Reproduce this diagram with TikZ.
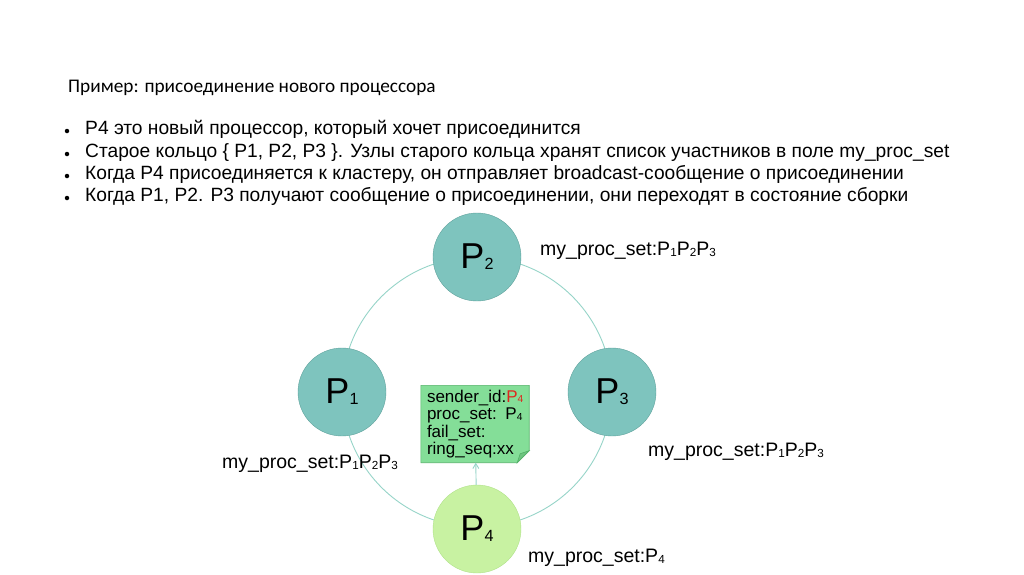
\documentclass[tikz,border=0pt]{standalone}
\usepackage{fontspec}
\setmainfont{Liberation Sans}
\newfontfamily\titlefont{Carlito}
\usetikzlibrary{arrows.meta, positioning, backgrounds}

\definecolor{procfill}{RGB}{126,196,190}
\definecolor{procline}{RGB}{96,162,156}
\definecolor{newfill}{RGB}{200,242,162}
\definecolor{newline}{RGB}{176,226,138}
\definecolor{ringline}{RGB}{150,212,200}
\definecolor{notefill}{RGB}{132,222,152}
\definecolor{noteline}{RGB}{84,178,104}
\definecolor{foldfill}{RGB}{110,196,128}
\definecolor{idred}{RGB}{222,40,30}

% processor name with small index
\newcommand{\pid}[2][0.6]{P\raisebox{-0.03em}{\scalebox{#1}{#2}}}

\begin{document}
\begin{tikzpicture}[x=1pt, y=-1pt,
  proc/.style={circle, draw=procline, fill=procfill, minimum size=88pt, inner sep=0pt, font=\fontsize{36}{36}\selectfont},
  newproc/.style={proc, draw=newline, fill=newfill},
  lbl/.style={anchor=west, inner sep=0pt, font=\fontsize{19.5}{22}\selectfont},
  item/.style={anchor=base west, inner sep=0pt, font=\fontsize{19.2}{22}\selectfont},
  dot/.style={circle, fill=black, inner sep=0pt, minimum size=4.5pt},
  note/.style={minimum width=108pt, minimum height=77pt, text width=96pt, align=left, inner xsep=6pt, inner ysep=3pt, font=\fontsize{17}{17.3}\selectfont},
  ring/.style={ringline, line width=0.9pt},
  arr/.style={-{Straight Barb[length=5pt, width=6pt]}, ringline, line width=0.9pt}
]
  \useasboundingbox (0,0) rectangle (1024,574);

  % heading and bullet list
  \node[anchor=base west, inner sep=0pt, font=\titlefont\fontsize{19.3}{22}\selectfont] (title) at (68,92) {Пример: присоединение нового процессора};

  \node[dot] (b1) at (67,131) {};
  \node[dot] (b2) at (67,154) {};
  \node[dot] (b3) at (67,176) {};
  \node[dot] (b4) at (67,198) {};
  \node[item] (t1) at (85,134) {P4 это новый процессор, который хочет присоединится};
  \node[item] (t2) at (85,157) {Старое кольцо \{ P1, P2, P3 \}. Узлы старого кольца хранят список участников в поле my\_proc\_set};
  \node[item] (t3) at (85,179) {Когда P4 присоединяется к кластеру, он отправляет broadcast-сообщение о присоединении};
  \node[item] (t4) at (85,201) {Когда P1, P2. P3 получают сообщение о присоединении, они переходят в состояние сборки};

  % ring of processors
  \coordinate (ringc) at (477,392);
  \draw[ring] (ringc) circle (135pt);

  \node[proc] (p2) at (477,257) {\pid[0.45]{2}};
  \node[proc] (p1) at (342,392) {\pid[0.45]{1}};
  \node[proc] (p3) at (612,392) {\pid[0.45]{3}};
  \node[newproc] (p4) at (477,529) {\pid[0.45]{4}};

  \node[lbl] (l2) at (540,251) {my\_proc\_set:\pid{1}\pid{2}\pid{3}};
  \node[lbl] (l1) at (222,464) {my\_proc\_set:\pid{1}\pid{2}\pid{3}};
  \node[lbl] (l3) at (648,452) {my\_proc\_set:\pid{1}\pid{2}\pid{3}};
  \node[lbl] (l4) at (528,558) {my\_proc\_set:\pid{4}};

  % join message with folded corner
  \node[note] (msg) at (475,424) {sender\_id:\textcolor{idred}{\pid{4}}\\proc\_set: \pid{4}\\fail\_set:\\ring\_seq:xx};
  \begin{scope}[on background layer]
    \filldraw[fill=notefill, draw=noteline, line width=0.6pt] (msg.north west) -- (msg.north east) -- ([yshift=12pt]msg.south east) -- ([xshift=-12pt]msg.south east) -- (msg.south west) -- cycle;
    \filldraw[fill=foldfill, draw=noteline, line width=0.6pt] ([yshift=12pt]msg.south east) -- ([xshift=-12pt]msg.south east) -- ([xshift=-9pt, yshift=9pt]msg.south east) -- cycle;
  \end{scope}

  \draw[arr] (p4) -- (msg);
\end{tikzpicture}
\end{document}
